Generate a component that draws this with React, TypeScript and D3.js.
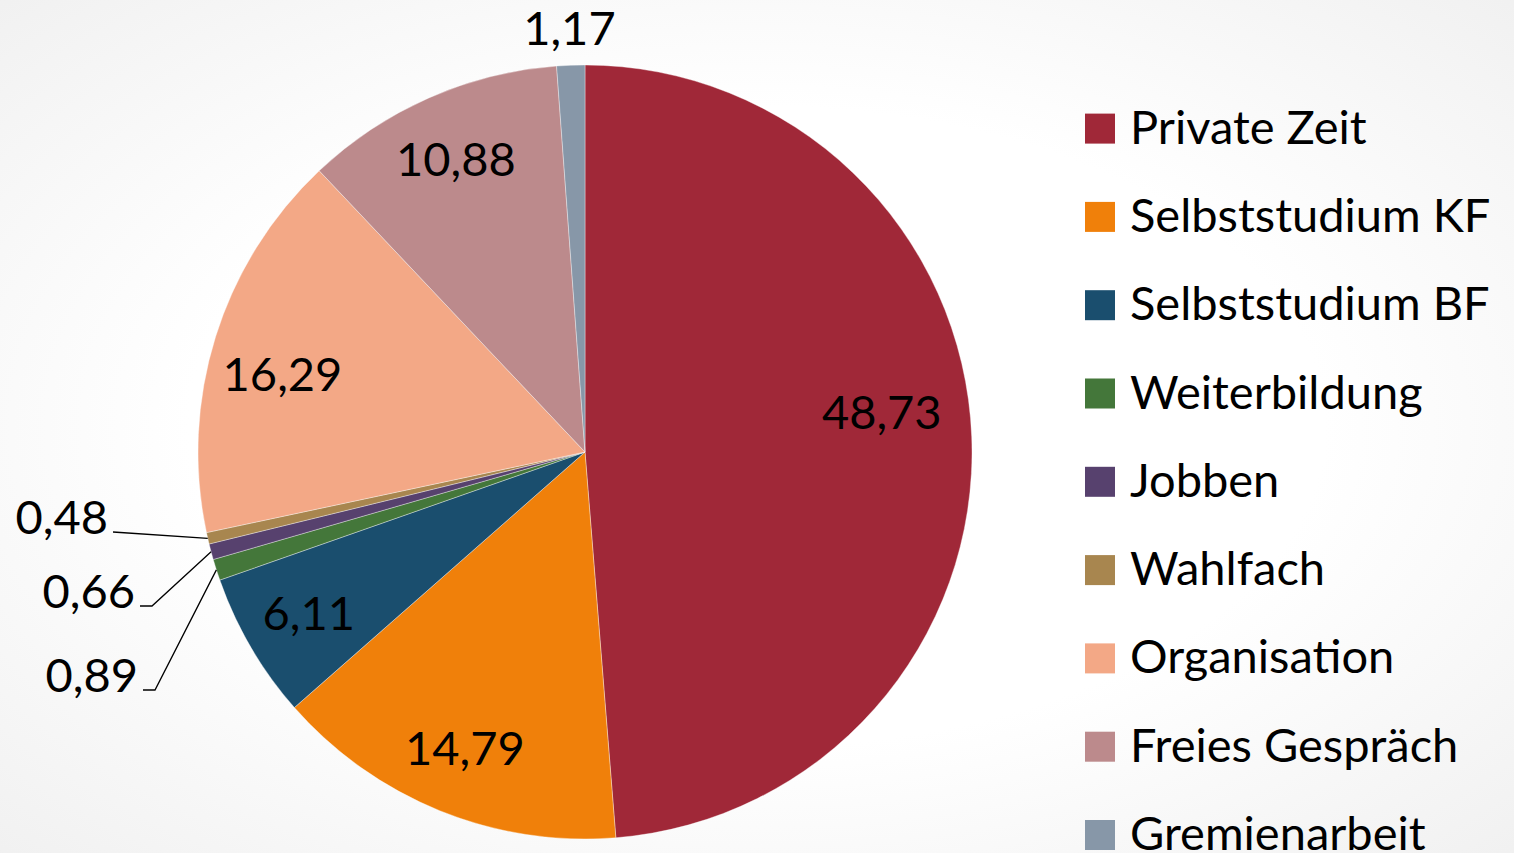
import { useEffect } from 'react';
import * as d3 from 'd3';

const W = 1514, H = 853;
const CATEGORIES = ['Private Zeit', 'Selbststudium KF', 'Selbststudium BF', 'Weiterbildung', 'Jobben', 'Wahlfach', 'Organisation', 'Freies Gespräch', 'Gremienarbeit'];
const VALUES = [48.73, 14.79, 6.11, 0.89, 0.66, 0.48, 16.29, 10.88, 1.17];
const COLORS = ['#a02838', '#f0800a', '#1a4e6e', '#44773a', '#57416e', '#a8864f', '#f3a886', '#bc8a8c', '#8797a8'];

const CX = 585, CY = 452, R = 387;
const FONT = 'Lato, "Open Sans", sans-serif';
const FS = 47;
// leader-line labels for the thin slices: elbow point and horizontal tail
const OUTSIDE: Record<number, { ex: number; ey: number; tail: number }> = {
  5: { ex: 113, ey: 532, tail: 0 },
  4: { ex: 152, ey: 606, tail: 12 },
  3: { ex: 155, ey: 690, tail: 12 },
};
const NUDGE: Record<number, [number, number]> = { 0: [-23, -27], 6: [3, 18] };
const fmt = (v: number) => v.toFixed(2).replace('.', ',');

export default function App() {
  useEffect(() => { document.body.style.margin = '0'; }, []);
  const pie = d3.pie<number>().sort(null).value(d => d);
  const arcs = pie(VALUES);
  const arc = d3.arc<d3.PieArcDatum<number>>().innerRadius(0).outerRadius(R);
  const labelArc = d3.arc<d3.PieArcDatum<number>>().innerRadius(320).outerRadius(320);
  const topArc = d3.arc<d3.PieArcDatum<number>>().innerRadius(424).outerRadius(424);
  const edgeArc = d3.arc<d3.PieArcDatum<number>>().innerRadius(R).outerRadius(R);
  const legendY = d3.scalePoint<string>().domain(CATEGORIES).range([128.6, 835]);

  return (
    <svg width={W} height={H} style={{ display: 'block' }}>
      <defs>
        <radialGradient id="bg" cx="50%" cy="50%" r="75%">
          <stop offset="0%" stopColor="#ffffff" />
          <stop offset="50%" stopColor="#ffffff" />
          <stop offset="100%" stopColor="#efefef" />
        </radialGradient>
      </defs>
      <rect width={W} height={H} fill="url(#bg)" />
      <g transform={`translate(${CX},${CY})`}>
        {arcs.map((a, i) => (
          <path key={i} d={arc(a) || ''} fill={COLORS[i]} stroke="#ffffff" strokeOpacity={0.6} strokeWidth={0.6} />
        ))}
      </g>
      <g fontFamily={FONT} fontSize={FS} fill="#000">
        {arcs.map((a, i) => {
          if (OUTSIDE[i]) {
            const o = OUTSIDE[i];
            const [px, py] = edgeArc.centroid(a);
            const pts: [number, number][] = [[o.ex - o.tail, o.ey], [o.ex, o.ey], [CX + px, CY + py]];
            return (
              <g key={i}>
                <path d={d3.line()(pts) || ''} fill="none" stroke="#000" strokeWidth={1.3} />
                <text x={o.ex - o.tail - 5} y={o.ey + 2} textAnchor="end">{fmt(VALUES[i])}</text>
              </g>
            );
          }
          const [lx, ly] = i === 8 ? topArc.centroid(a) : labelArc.centroid(a);
          const [nx, ny] = NUDGE[i] || [0, 0];
          return (
            <text key={i} x={CX + lx + nx} y={CY + ly + ny} textAnchor="middle" dy="0.35em">{fmt(VALUES[i])}</text>
          );
        })}
      </g>
      <g fontFamily={FONT} fontSize={FS}>
        {CATEGORIES.map((c, i) => {
          const y = legendY(c) as number;
          return (
            <g key={c}>
              <rect x={1085} y={y - 15} width={30} height={30} fill={COLORS[i]} />
              <text x={1130} y={y + 15} fill="#000">{c}</text>
            </g>
          );
        })}
      </g>
    </svg>
  );
}
